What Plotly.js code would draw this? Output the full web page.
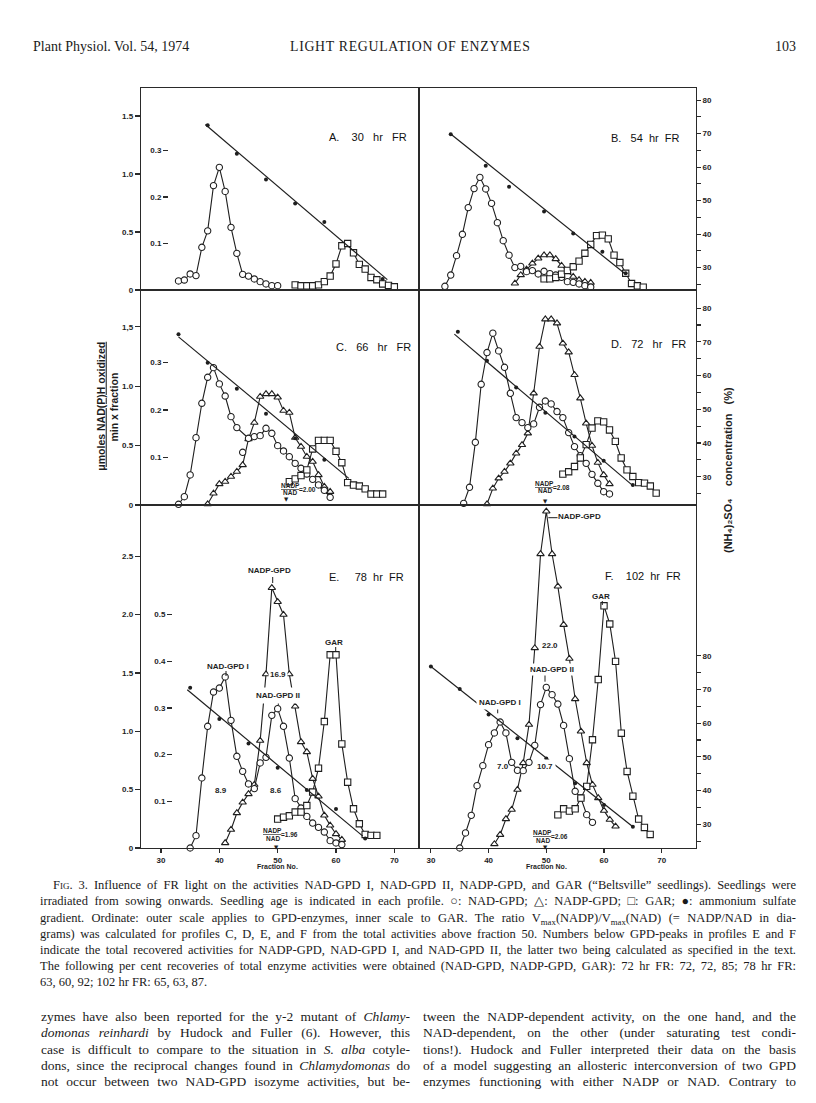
<!DOCTYPE html>
<html><head><meta charset="utf-8">
<script src="https://cdn.plot.ly/plotly-3.0.1.min.js"></script>
<style>
body{margin:0;background:#fff;}
#page{position:relative;width:816px;height:1103px;overflow:hidden;background:#fff;}
#plot{position:absolute;left:0;top:0;width:816px;height:1103px;}
.t{position:absolute;font-family:'Liberation Serif','Times New Roman',serif;color:#1a1a1a;white-space:nowrap;}
.t span{display:inline-block;white-space:nowrap;}
.cap{font-size:12.5px;line-height:16px;height:16px;}
.bod{font-size:13.5px;line-height:16px;height:16px;}
.sb{font-size:70%;position:relative;top:3px;line-height:1;}
</style></head>
<body><div id="page"><div id="plot"></div>
<div class="t" style="left:33px;top:39px;font-size:14px;">Plant Physiol. Vol. 54, 1974</div>
<div class="t" style="left:290px;top:39px;font-size:13.8px;letter-spacing:0.7px;">LIGHT REGULATION OF ENZYMES</div>
<div class="t" style="left:775px;top:39px;font-size:14px;">103</div>

<div class="t cap j" data-w="743" style="left:53px;top:877px;"><span><span style="font-variant:small-caps">Fig.</span> 3. Influence of FR light on the activities NAD-GPD I, NAD-GPD II, NADP-GPD, and GAR (“Beltsville” seedlings). Seedlings were</span></div>
<div class="t cap j" data-w="756" style="left:40px;top:893px;"><span>irradiated from sowing onwards. Seedling age is indicated in each profile. ○: NAD-GPD; △: NADP-GPD; □: GAR; ●: ammonium sulfate</span></div>
<div class="t cap j" data-w="756" style="left:40px;top:910px;"><span>gradient. Ordinate: outer scale applies to GPD-enzymes, inner scale to GAR. The ratio V<span class="sb">max</span>(NADP)/V<span class="sb">max</span>(NAD) (= NADP/NAD in dia-</span></div>
<div class="t cap j" data-w="756" style="left:40px;top:926px;"><span>grams) was calculated for profiles C, D, E, and F from the total activities above fraction 50. Numbers below GPD-peaks in profiles E and F</span></div>
<div class="t cap j" data-w="756" style="left:40px;top:942px;"><span>indicate the total recovered activities for NADP-GPD, NAD-GPD I, and NAD-GPD II, the latter two being calculated as specified in the text.</span></div>
<div class="t cap j" data-w="756" style="left:40px;top:958px;"><span>The following per cent recoveries of total enzyme activities were obtained (NAD-GPD, NADP-GPD, GAR): 72 hr FR: 72, 72, 85; 78 hr FR:</span></div>
<div class="t cap" style="left:40px;top:974px;"><span>63, 60, 92; 102 hr FR: 65, 63, 87.</span></div>

<div class="t bod j" data-w="369" style="left:41px;top:1009px;"><span>zymes have also been reported for the y-2 mutant of <i>Chlamy-</i></span></div>
<div class="t bod j" data-w="369" style="left:41px;top:1025px;"><span><i>domonas reinhardi</i> by Hudock and Fuller (6). However, this</span></div>
<div class="t bod j" data-w="369" style="left:41px;top:1042px;"><span>case is difficult to compare to the situation in <i>S. alba</i> cotyle-</span></div>
<div class="t bod j" data-w="369" style="left:41px;top:1058px;"><span>dons, since the reciprocal changes found in <i>Chlamydomonas</i> do</span></div>
<div class="t bod j" data-w="369" style="left:41px;top:1074px;"><span>not occur between two NAD-GPD isozyme activities, but be-</span></div>
<div class="t bod j" data-w="373" style="left:423px;top:1009px;"><span>tween the NADP-dependent activity, on the one hand, and the</span></div>
<div class="t bod j" data-w="373" style="left:423px;top:1025px;"><span>NAD-dependent, on the other (under saturating test condi-</span></div>
<div class="t bod j" data-w="373" style="left:423px;top:1042px;"><span>tions!). Hudock and Fuller interpreted their data on the basis</span></div>
<div class="t bod j" data-w="373" style="left:423px;top:1058px;"><span>of a model suggesting an allosteric interconversion of two GPD</span></div>
<div class="t bod j" data-w="373" style="left:423px;top:1074px;"><span>enzymes functioning with either NADP or NAD. Contrary to</span></div>
</div>
<script>
// ---------------- DATA (fraction numbers, activities, % ammonium sulfate) ----------------
// Panel A: 30 hr FR
const A_frac_nad = [33,34,35,36,37,38,39,40,41,42,43,44,45,46,47,48,49,50];
const A_nad = [0.078,0.086,0.138,0.124,0.368,0.51,0.90,1.057,0.85,0.54,0.316,0.135,0.12,0.095,0.072,0.052,0.037,0.037];
const A_frac_gar = [53,54,55,56,57,58,59,60,61,62,63,64,65,66,67,68,69,70];
const A_gar = [0.011,0.009,0.009,0.009,0.011,0.018,0.030,0.056,0.095,0.100,0.080,0.055,0.045,0.027,0.022,0.013,0.010,0.007];
const A_frac_amm = [38,43,48,53,58,68];
const A_amm = [72.5,64.0,56.3,49.1,43.6,26.6];
const A_fit_frac = [37.6,68.8];
const A_fit = [72.7,26.4];

// Panel B: 54 hr FR
const B_frac_nad = [33,34,35,36,37,38,39,40,41,42,43,44,45,46,47,48,49,50,51,52,53,54,55,56,57,58];
const B_nad = [0.032,0.129,0.296,0.48,0.71,0.874,0.971,0.871,0.747,0.58,0.425,0.30,0.193,0.204,0.158,0.167,0.138,0.161,0.141,0.129,0.109,0.072,0.066,0.052,0.037,0.026];
const B_frac_nadp = [45,46,47,48,49,50,51,52,53,54,55,56,57,58];
const B_nadp = [0.057,0.129,0.178,0.23,0.273,0.30,0.30,0.267,0.21,0.158,0.115,0.086,0.072,0.063];
const B_frac_gar = [50,51,52,53,54,55,56,57,58,59,60,61,62,63,64,65,66,67];
const B_gar = [0.024,0.024,0.027,0.034,0.042,0.050,0.062,0.079,0.098,0.117,0.118,0.110,0.075,0.059,0.036,0.014,0.009,0.006];
const B_frac_amm = [34,40,44,50,55,60,64];
const B_amm = [69.8,60.4,54.1,46.7,40.2,34.7,28.3];
const B_fit_frac = [34.05,64.0];
const B_fit = [69.8,28.0];

// Panel C: 66 hr FR
const C_frac_nad = [33,34,35,36,37,38,39,40,41,42,43,45,46,47,48,49,50,51,52,53,54,55,56,57,58,59];
const C_nad = [0.006,0.07,0.253,0.567,0.857,1.076,1.157,1.02,0.918,0.744,0.652,0.562,0.576,0.584,0.646,0.604,0.50,0.455,0.407,0.351,0.309,0.261,0.216,0.169,0.124,0.065];
const C_frac_nad_single = [44];
const C_nad_single = [0.444];
const C_frac_nadp = [38,39,40,41,42,43,44,45,46,47,48,49,50,51,52,53,54,55,56,57,58,59];
const C_nadp = [0.008,0.098,0.177,0.197,0.239,0.281,0.337,0.556,0.694,0.913,0.935,0.935,0.907,0.795,0.778,0.567,0.492,0.407,0.365,0.253,0.154,0.112];
const C_frac_gar = [52,53,54,55,56,57,58,59,60,61,62,63,64,65,66,67,68];
const C_gar = [0.049,0.055,0.062,0.074,0.118,0.136,0.136,0.136,0.113,0.089,0.047,0.042,0.040,0.034,0.023,0.023,0.023];
const C_frac_amm = [33,38,43,48,53,58];
const C_amm = [72.3,63.8,56.1,48.7,41.4,35.0];
const C_fit_frac = [33.0,62.2];
const C_fit = [71.5,29.5];

// Panel D: 72 hr FR
const D_frac_nad = [36,37,38,39,40,41,42,43,44,45,46,47,48,49,50,51,52,53,54,55,56,57,58,59,60,61];
const D_nad = [0.014,0.149,0.528,1.017,1.284,1.447,1.298,1.16,0.941,0.736,0.694,0.652,0.683,0.823,0.876,0.851,0.787,0.736,0.61,0.492,0.416,0.351,0.258,0.183,0.112,0.093];
const D_frac_nadp = [40,41,42,43,44,45,46,47,48,49,50,51,52,53,54,55,56,57,58,59,60,61];
const D_nadp = [0.008,0.14,0.225,0.281,0.351,0.435,0.506,0.604,0.941,1.334,1.565,1.565,1.531,1.362,1.287,1.096,0.899,0.688,0.5,0.357,0.253,0.177];
const D_frac_gar = [53,54,55,56,57,58,59,60,61,62,63,64,65,66,67,68,69];
const D_gar = [0.065,0.070,0.081,0.099,0.127,0.162,0.177,0.175,0.158,0.134,0.099,0.074,0.060,0.047,0.046,0.040,0.025];
const D_frac_amm = [35,40,45,50,55,60,65];
const D_amm = [73.0,64.4,56.5,49.0,41.9,34.7,27.5];
const D_fit_frac = [34.4,65.1];
const D_fit = [72.3,27.2];

// Panel E: 78 hr FR
const E_frac_nad = [35,36,37,38,39,40,41,42,43,44,45,46,47,48,49,50,51,52,53,54,55,56,57,58,59,60,61];
const E_nad = [0,0.106,0.60,1.043,1.337,1.371,1.466,1.094,0.786,0.657,0.549,0.509,0.729,0.777,1.137,1.194,1.043,0.771,0.423,0.343,0.271,0.214,0.177,0.137,0.063,0.043,0.029];
const E_frac_nadp = [41,42,43,44,45,46,47,48,49,50,51,52,53,54,55,56,57,58,59,60,61];
const E_nadp = [0.043,0.157,0.30,0.391,0.463,0.543,0.92,1.49,2.23,2.11,2.0,1.49,1.214,0.909,0.823,0.594,0.443,0.28,0.194,0.12,0.071];
const E_frac_gar = [50,51,52,53,54,55,56,57,58,59,60,61,62,63,64,65,66,67];
const E_gar = [0.062,0.066,0.069,0.077,0.077,0.091,0.12,0.171,0.271,0.414,0.414,0.223,0.141,0.084,0.052,0.029,0.027,0.027];
const E_frac_amm = [35,40,45,50,55,60,65];
const E_amm = [70.5,61.2,54.0,46.8,40.2,34.5,25.8];
const E_fit_frac = [34.5,64.6];
const E_fit = [69.9,26.5];

// Panel F: 102 hr FR
const F_frac_nad = [35,36,37,38,39,40,41,42,43,44,45,46,47,48,49,50,51,52,53,54,55,56,57,58];
const F_nad = [0,0.129,0.28,0.534,0.706,0.886,0.986,1.08,0.986,0.734,0.666,0.663,0.734,0.88,1.229,1.377,1.314,1.234,1.051,0.766,0.486,0.429,0.286,0.22];
const F_frac_nadp = [41,42,43,44,45,46,47,48,49,50,51,52,53,54,55,56,57,58,59,60,61,62];
const F_nadp = [0.034,0.114,0.249,0.329,0.50,0.729,1.057,1.714,2.52,2.886,2.52,2.243,1.914,1.623,1.277,1.0,0.729,0.543,0.429,0.32,0.243,0.186];
const F_frac_gar = [52,53,54,55,56,57,58,59,60,61,62,63,64,65,66,67,68];
const F_gar = [0.071,0.084,0.079,0.084,0.107,0.132,0.232,0.361,0.519,0.48,0.40,0.246,0.164,0.111,0.062,0.044,0.029];
const F_frac_amm = [30,35,40,45,50,55,60,65];
const F_amm = [76.8,70.1,62.6,55.5,49.5,42.2,35.7,29.3];
const F_fit_frac = [30,65];
const F_fit = [76.8,29.3];

// tick labels
const x_tick_vals = [30,40,50,60,70];
const x_tick_text = ['30','40','50','60','70'];
const amm_tick_vals = [30,40,50,60,70,80];
const amm_tick_text = ['30','40','50','60','70','80'];
const amm_minor_vals = [25,35,45,55,65,75];
const outer_vals_12 = [0,0.5,1,1.5];
const outer_text_1 = ['0','0.5','1.0','1.5'];
const outer_text_2 = ['0','0.5','1.0','1,5'];
const outer_vals_3 = [0,0.5,1,1.5,2,2.5];
const outer_text_3 = ['0','0.5','1.0','1.5','2.0','2.5'];
const inner_vals_12 = [0.1,0.2,0.3];
const inner_text_12 = ['0.1','0.2','0.3'];
const inner_vals_3 = [0.1,0.2,0.3,0.4,0.5];
const inner_text_3 = ['0.1','0.2','0.3','0.4','0.5'];

// ---------------- LAYOUT ----------------
const W=816, H=1103;
const PX = x => x/W, PY = y => 1 - y/H;
const INK = '#1e1e1e';
const FRAME = '#2a2a2a';
const tickFont = {family:'Liberation Sans, Arial, sans-serif', size:8, color:INK, weight:'bold'};

const rowsCfg = {
  1:{top:88, bot:290, outer:[0,1.741], inner:[0,0.4344], amm:[23.3,83.6], innerPos:168, ov:outer_vals_12, ot:outer_text_1, iv:inner_vals_12, it:inner_text_12},
  2:{top:290,bot:505, outer:[0,1.811], inner:[0,0.4525], amm:[21.6,85.4], innerPos:168, ov:outer_vals_12, ot:outer_text_2, iv:inner_vals_12, it:inner_text_12},
  3:{top:505,bot:848, outer:[0,2.94],  inner:[0,0.735],  amm:[22.97,124.7], innerPos:172, ov:outer_vals_3, ot:outer_text_3, iv:inner_vals_3, it:inner_text_3}
};
const colsCfg = {L:{l:141,r:419}, R:{l:419,r:696}};

const panels = [
  {col:'L',row:1,xr:[26.57,74.23],nad:[A_frac_nad,A_nad],gar:[A_frac_gar,A_gar],amm:[A_frac_amm,A_amm],fit:[A_fit_frac,A_fit]},
  {col:'R',row:1,xr:[28.56,76.05],nad:[B_frac_nad,B_nad],nadp:[B_frac_nadp,B_nadp],gar:[B_frac_gar,B_gar],amm:[B_frac_amm,B_amm],fit:[B_fit_frac,B_fit]},
  {col:'L',row:2,xr:[26.57,74.23],nad:[C_frac_nad,C_nad],nadSingle:[C_frac_nad_single,C_nad_single],nadp:[C_frac_nadp,C_nadp],gar:[C_frac_gar,C_gar],amm:[C_frac_amm,C_amm],fit:[C_fit_frac,C_fit]},
  {col:'R',row:2,xr:[28.34,75.83],nad:[D_frac_nad,D_nad],nadp:[D_frac_nadp,D_nadp],gar:[D_frac_gar,D_gar],amm:[D_frac_amm,D_amm],fit:[D_fit_frac,D_fit]},
  {col:'L',row:3,xr:[26.57,74.23],nad:[E_frac_nad,E_nad],nadp:[E_frac_nadp,E_nadp],gar:[E_frac_gar,E_gar],amm:[E_frac_amm,E_amm],fit:[E_fit_frac,E_fit]},
  {col:'R',row:3,xr:[27.94,75.94],nad:[F_frac_nad,F_nad],nadp:[F_frac_nadp,F_nadp],gar:[F_frac_gar,F_gar],amm:[F_frac_amm,F_amm],fit:[F_fit_frac,F_fit]}
];

const layout = {
  width:W, height:H, margin:{l:0,r:0,t:0,b:0,pad:0},
  paper_bgcolor:'#ffffff', plot_bgcolor:'rgba(0,0,0,0)', showlegend:false,
  font:{family:'Liberation Sans, Arial, sans-serif', size:9, color:INK},
  annotations:[], shapes:[]
};
const traces = [];
const axName = (k,p) => k===1 ? p+'axis' : p+'axis'+k;
const axRef = (k,p) => k===1 ? p : p+k;

const curveStyle = sym => ({mode:'lines+markers', cliponaxis:false, hoverinfo:'skip',
  line:{color:INK,width:1.1}, marker:{symbol:sym,size:sym==='triangle-up'?6.5:6.3,color:'#ffffff',line:{color:INK,width:1.1}}});

panels.forEach((p,i)=>{
  const n=i+1, yo=3*n-2, yi=3*n-1, ym=3*n;
  const R=rowsCfg[p.row], C=colsCfg[p.col];
  const dom=[PY(R.bot), PY(R.top)];
  const left = p.col==='L', bottom = p.row===3;
  const xAx = {domain:[PX(C.l),PX(C.r)], range:p.xr, anchor:axRef(yo,'y'),
    showline:true, mirror:true, linecolor:FRAME, linewidth:1.3, showgrid:false, zeroline:false,
    ticks: bottom?'outside':'', showticklabels:bottom, fixedrange:true};
  if(bottom){ Object.assign(xAx,{tickvals:x_tick_vals, ticktext:x_tick_text, ticklen:4, tickwidth:1.1, tickcolor:FRAME, tickfont:tickFont}); }
  layout[axName(n,'x')] = xAx;
  const yAx = {domain:dom, range:R.outer, anchor:axRef(n,'x'),
    showline:true, mirror:true, linecolor:FRAME, linewidth:1.3, showgrid:false, zeroline:false,
    ticks: left?'outside':'', showticklabels:left, fixedrange:true};
  if(left){ Object.assign(yAx,{tickvals:R.ov, ticktext:R.ot, ticklen:5, tickwidth:1.1, tickcolor:FRAME, tickfont:tickFont}); }
  layout[axName(yo,'y')] = yAx;
  layout[axName(yi,'y')] = left ? {overlaying:axRef(yo,'y'), range:R.inner, anchor:'free', position:PX(R.innerPos),
    showline:false, showgrid:false, zeroline:false,
    ticks:'outside', ticklen:5, tickwidth:1.1, tickcolor:FRAME, tickvals:R.iv, ticktext:R.it, tickfont:tickFont, fixedrange:true}
    : {overlaying:axRef(yo,'y'), range:R.inner, anchor:axRef(n,'x'), visible:false, showticklabels:false, ticks:'', showgrid:false, zeroline:false, fixedrange:true};
  layout[axName(ym,'y')] = left ? {overlaying:axRef(yo,'y'), side:'right', anchor:axRef(n,'x'), range:R.amm,
    visible:false, showticklabels:false, ticks:'', showgrid:false, zeroline:false, fixedrange:true}
    : {overlaying:axRef(yo,'y'), side:'right', anchor:axRef(n,'x'), range:R.amm,
    showline:false, showgrid:false, zeroline:false,
    ticks:'outside', ticklen:4, tickwidth:1.1, tickcolor:FRAME, tickvals:amm_tick_vals, ticktext:amm_tick_text, tickfont:tickFont,
    minor:{tickvals:amm_minor_vals, ticks:'outside', ticklen:4, tickwidth:1.1, tickcolor:FRAME, showgrid:false},
    fixedrange:true};

  const xr=axRef(n,'x');
  traces.push({x:p.fit[0], y:p.fit[1], xaxis:xr, yaxis:axRef(ym,'y'), mode:'lines', cliponaxis:false, hoverinfo:'skip', line:{color:INK,width:1.2}});
  traces.push({x:p.amm[0], y:p.amm[1], xaxis:xr, yaxis:axRef(ym,'y'), mode:'markers', cliponaxis:false, hoverinfo:'skip', marker:{symbol:'circle',size:4,color:INK}});
  if(p.gar) traces.push(Object.assign({x:p.gar[0], y:p.gar[1], xaxis:xr, yaxis:axRef(yi,'y')}, curveStyle('square')));
  if(p.nadp) traces.push(Object.assign({x:p.nadp[0], y:p.nadp[1], xaxis:xr, yaxis:axRef(yo,'y')}, curveStyle('triangle-up')));
  traces.push(Object.assign({x:p.nad[0], y:p.nad[1], xaxis:xr, yaxis:axRef(yo,'y')}, curveStyle('circle')));
  if(p.nadSingle){ const s=curveStyle('circle'); s.mode='markers';
    traces.push(Object.assign({x:p.nadSingle[0], y:p.nadSingle[1], xaxis:xr, yaxis:axRef(yo,'y')}, s)); }
});

// ---------------- TEXT ANNOTATIONS ----------------
const NB='\u00a0';
const sp = k => NB.repeat(k);
function ann(text,x,y,opt){
  layout.annotations.push(Object.assign({text:text, xref:'paper', yref:'paper', x:PX(x), y:PY(y),
    showarrow:false, xanchor:'center', yanchor:'middle', borderpad:0,
    font:{family:'Liberation Sans, Arial, sans-serif', size:8, color:INK, weight:'bold'}}, opt||{}));
}
const labFont = {family:'Liberation Sans, Arial, sans-serif', size:11, color:'#111'};
ann('A.'+sp(4)+'30'+sp(3)+'hr'+sp(3)+'FR', 328, 137, {xanchor:'left', font:labFont});
ann('B.'+sp(3)+'54'+sp(2)+'hr'+sp(2)+'FR', 610, 138, {xanchor:'left', font:labFont});
ann('C.'+sp(3)+'66'+sp(3)+'hr'+sp(3)+'FR', 335, 347, {xanchor:'left', font:labFont});
ann('D.'+sp(3)+'72'+sp(3)+'hr'+sp(3)+'FR', 610, 344, {xanchor:'left', font:labFont});
ann('E.'+sp(5)+'78'+sp(2)+'hr'+sp(2)+'FR', 328, 577, {xanchor:'left', font:labFont});
ann('F.'+sp(4)+'102'+sp(2)+'hr'+sp(2)+'FR', 604, 576, {xanchor:'left', font:labFont});

// panel E labels
ann('NADP-GPD', 269.5, 570);
ann('GAR', 334.2, 642);
ann('NAD-GPD I', 228.3, 666);
ann('16.9', 278.3, 674.3, {bgcolor:'#ffffff', borderpad:1});
ann('NAD-GPD II', 277.5, 695.7, {bgcolor:'#ffffff', borderpad:3});
ann('8.9', 220.5, 790);
ann('8.6', 275.8, 790);
// panel F labels
ann('NADP-GPD', 579, 516.7, {bgcolor:'#ffffff'});
ann('GAR', 600.8, 596.7);
ann('22.0', 549.7, 645);
ann('NAD-GPD II', 551.7, 669.3, {bgcolor:'#ffffff', borderpad:1});
ann('NAD-GPD I', 499.5, 702.3, {bgcolor:'#ffffff', borderpad:2});
ann('7.0', 503.3, 766.7);
ann('10.7', 544.5, 766.7, {bgcolor:'#ffffff', borderpad:2});

// ratio labels NADP/NAD
const rf = {family:'Liberation Sans, Arial, sans-serif', size:6.5, color:INK, weight:'bold'};
function ratio(cx, yTop, yBot, eqText, ex, ey, tx, ty){
  ann('<u>NADP</u>', cx, yTop, {font:rf});
  ann('NAD', cx, yBot, {font:rf});
  ann(eqText, ex, ey, {font:rf, xanchor:'left'});
  ann('\u25bc', tx, ty, {font:{family:'DejaVu Sans, sans-serif', size:5.5, color:INK}});
}
ratio(290.3, 485.5, 492.8, '=2.00', 298, 490, 286.7, 499.3);
ratio(544.5, 483.5, 490.5, '=2.08', 552, 487.3, 545, 500.7);
ratio(272.5, 830.5, 838, '=1.96', 280, 834.5, 276.7, 846.7);
ratio(542.5, 832.5, 840, '=2.06', 550, 836.7, 545, 846.7);

// axis titles
ann('Fraction No.', 277, 866, {font:{family:'Liberation Sans, Arial, sans-serif', size:7, color:INK, weight:'bold'}});
ann('Fraction No.', 546, 866, {font:{family:'Liberation Sans, Arial, sans-serif', size:7, color:INK, weight:'bold'}});
const tf = {family:'Liberation Sans, Arial, sans-serif', size:10.5, color:INK, weight:'bold'};
ann('<u>μmoles'+sp(1)+'NAD(P)H'+sp(1)+'oxidized</u>', 100.7, 406, {textangle:-90, font:tf});
ann('min'+sp(1)+'x'+sp(1)+'fraction', 113.5, 407, {textangle:-90, font:tf});
ann('(NH\u2084)\u2082SO\u2084'+sp(4)+'concentration'+sp(3)+'(%)', 728, 470, {textangle:-90, font:{family:'Liberation Sans, DejaVu Sans, Arial, sans-serif', size:11, color:INK, weight:'bold'}});

// small pointer ticks under labels
function tk(x0,y0,x1,y1){ layout.shapes.push({type:'line', xref:'paper', yref:'paper', x0:PX(x0), y0:PY(y0), x1:PX(x1), y1:PY(y1), line:{color:INK,width:1}}); }
tk(272.7,577,272.7,583); tk(335.7,647,335.7,652); tk(226,671,226,676); tk(278.3,700,278.3,705);
tk(548.3,517.7,558.3,517.7); tk(602.3,601,602.3,605); tk(545,674.3,545,681.7); tk(497.7,706.7,497.7,713.3);

Plotly.newPlot('plot', traces, layout, {displayModeBar:false, staticPlot:true});

// justify single text lines
document.querySelectorAll('.j').forEach(el=>{
  const target=parseFloat(el.dataset.w);
  const span=el.firstElementChild;
  span.style.wordSpacing='0px';
  const w=span.getBoundingClientRect().width;
  const n=(span.textContent.match(/ /g)||[]).length;
  if(n>0) span.style.wordSpacing=((target-w)/n)+'px';
});
</script>
</body></html>
